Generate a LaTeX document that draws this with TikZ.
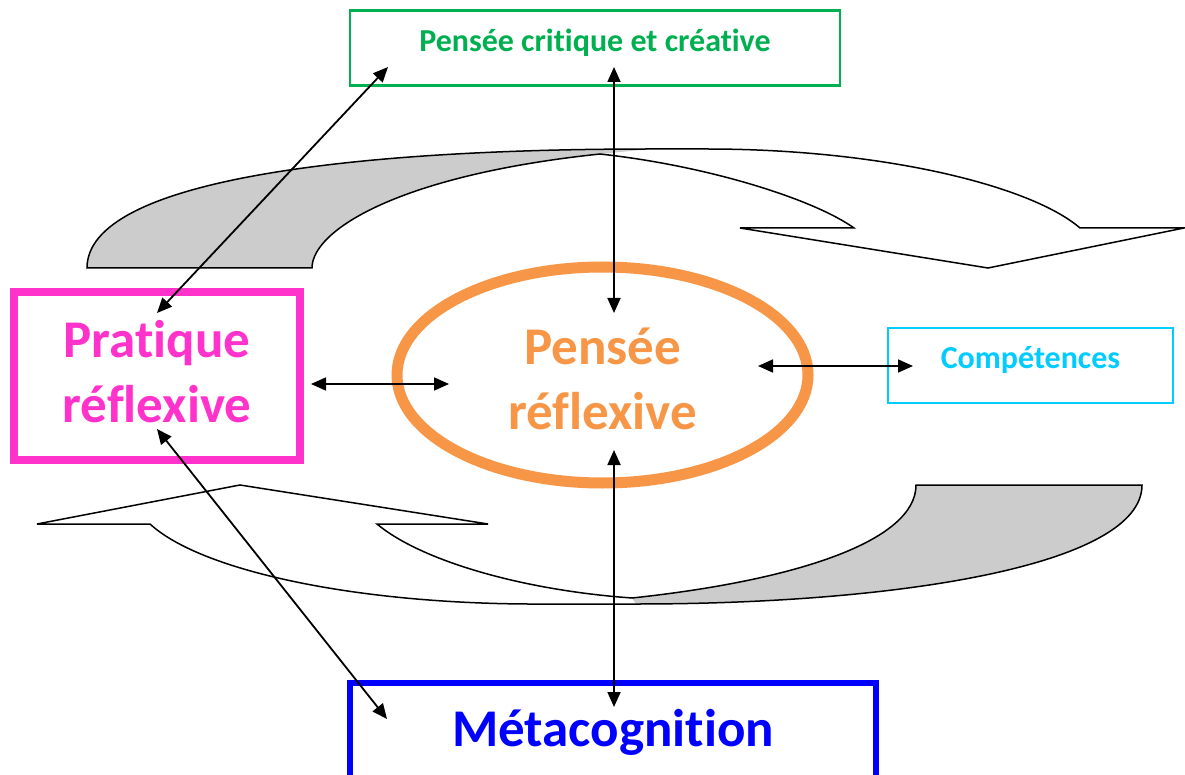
\documentclass[tikz,border=0pt]{standalone}
\usepackage{fontspec}
\setmainfont{Carlito}[Ligatures=NoCommon]
\usetikzlibrary{arrows.meta,shapes.geometric}
\definecolor{critgreen}{HTML}{00B050}
\definecolor{pratpink}{HTML}{FF33CC}
\definecolor{penseorange}{HTML}{F79646}
\definecolor{compcyan}{HTML}{00CCFF}
\definecolor{metablue}{HTML}{0000FF}
\definecolor{bandgray}{HTML}{CCCCCC}
\begin{document}
\begin{tikzpicture}[x=1pt,y=-1pt,
  band/.style={draw=black,line width=1.5pt,line join=miter},
  link/.style={line width=1.8pt,{Triangle[length=15pt,width=13pt]}-{Triangle[length=15pt,width=13pt]}},
  smallbox/.style={draw,rectangle,inner sep=0pt,font=\fontsize{32}{39}\selectfont\bfseries},
  bigbox/.style={inner sep=0pt,font=\fontsize{53}{65}\selectfont\bfseries,align=center}]
\clip (0,0) rectangle (1185,775);
\fill[white] (0,0) rectangle (1185,775);

% upper curved arrow: shaded back face on the left, head pointing down on the right
\fill[bandgray] (87,268) .. controls (87,180) and (350,149) .. (650,149)
  -- (600,154) .. controls (400,175) and (312,230) .. (312,268) -- cycle;
\draw[band] (87,268) .. controls (87,180) and (350,149) .. (650,149) -- (707,149)
  .. controls (880,149) and (1030,185) .. (1080,228) -- (1184,228) -- (988,268)
  -- (740,228) -- (854,228) .. controls (815,200) and (710,166) .. (600,154)
  .. controls (400,175) and (312,230) .. (312,268) -- cycle;

% lower curved arrow: shaded back face on the right, head pointing up on the left
\fill[bandgray] (632,598) .. controls (800,580) and (916,540) .. (916,485)
  -- (1142,485) .. controls (1142,565) and (900,604) .. (636,604) -- cycle;
\draw[band] (37,524) -- (240,485) -- (488,524) -- (377,524)
  .. controls (420,560) and (520,590) .. (632,598)
  .. controls (800,580) and (916,540) .. (916,485) -- (1142,485)
  .. controls (1142,565) and (900,604) .. (636,604) -- (528,604)
  .. controls (350,603) and (200,570) .. (150,524) -- cycle;

% concepts
\node[smallbox,draw=critgreen,text=critgreen,line width=2.5pt,
  minimum width=490pt,minimum height=75pt] (crit) at (595,48)
  {\rule[-18pt]{0pt}{44pt}Pensée critique et créative};
\node[bigbox,draw=pratpink,text=pratpink,line width=8pt,
  minimum width=286pt,minimum height=168pt] (prat) at (157,376)
  {\rule{0pt}{40pt}Pratique\\réflexive\rule[-12pt]{0pt}{12pt}};
\node[bigbox,ellipse,draw=penseorange,text=penseorange,line width=11pt,
  minimum width=411pt,minimum height=216pt] (pens) at (602.5,375)
  {\rule{0pt}{45pt}Pensée\\réflexive};
\node[smallbox,draw=compcyan,text=compcyan,line width=2pt,
  minimum width=285pt,minimum height=75pt] (comp) at (1030.5,365.5)
  {\rule[-20pt]{0pt}{45pt}Compétences};
\node[bigbox,draw=metablue,text=metablue,line width=5.5pt,
  minimum width=526pt,minimum height=126pt] (meta) at (613,746)
  {\rule[-40pt]{0pt}{80pt}Métacognition};

% arrow ends
\coordinate (critL) at (388,67);
\coordinate (pratT) at (157,313);
\coordinate (critB) at (614,67);
\coordinate (pensT) at (614,313);
\coordinate (pratR) at (311,384);
\coordinate (pensL) at (449,384);
\coordinate (pensR) at (758,366);
\coordinate (compL) at (913,366);
\coordinate (pensB) at (614,450);
\coordinate (metaT) at (614,707);
\coordinate (pratB) at (157,429);
\coordinate (metaL) at (387,719);

% links
\draw[link] (critL) -- (pratT);
\draw[link] (critB) -- (pensT);
\draw[link] (pratR) -- (pensL);
\draw[link] (pensR) -- (compL);
\draw[link] (pensB) -- (metaT);
\draw[link] (pratB) -- (metaL);
\end{tikzpicture}
\end{document}
